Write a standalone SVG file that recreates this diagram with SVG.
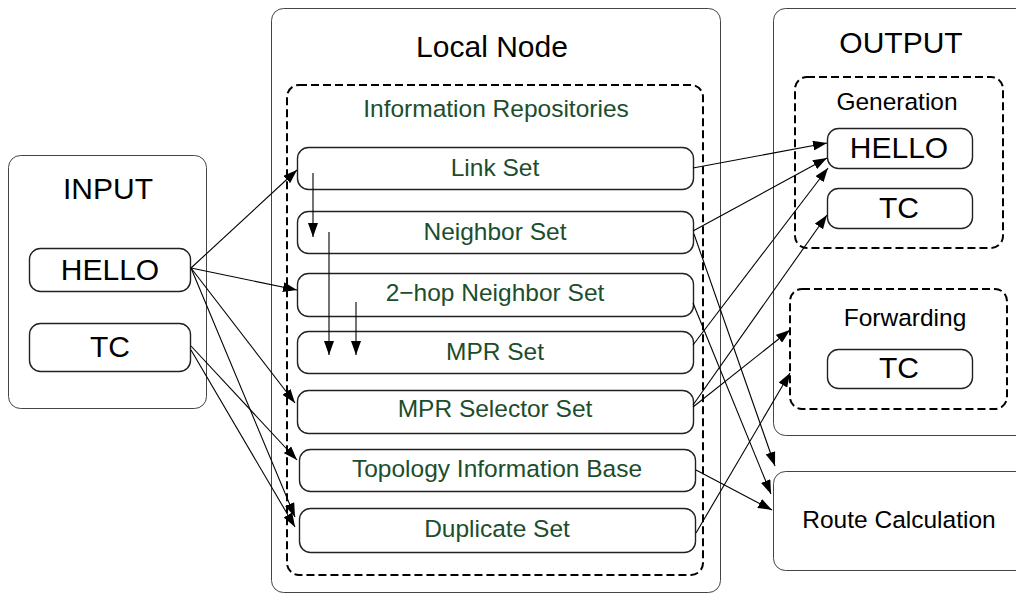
<svg xmlns="http://www.w3.org/2000/svg" width="1016" height="594" viewBox="0 0 1016 594">
<defs>
<style>
.outer{fill:#fff;stroke:#444;stroke-width:1}
.box{fill:#fff;stroke:#222;stroke-width:1.4}
.dash{fill:none;stroke:#000;stroke-width:2;stroke-dasharray:8,4}
.big{font-family:"Liberation Sans",Arial,sans-serif;font-size:30px;fill:#000;text-anchor:middle}
.mid{font-family:"Liberation Sans",Arial,sans-serif;font-size:24.5px;fill:#000;text-anchor:middle}
.grn{font-family:"Liberation Sans",Arial,sans-serif;font-size:24.5px;fill:#1c4d2c;text-anchor:middle}
.conn line{stroke:#000;stroke-width:1.1;marker-end:url(#ah)}
</style>
<marker id="ah" markerUnits="userSpaceOnUse" markerWidth="14" markerHeight="10" refX="14" refY="5" orient="auto">
<path d="M0,0 L14,5 L0,10 z" fill="#000"/>
</marker>
</defs>
<rect width="1016" height="594" fill="#fff"/>

<g id="input">
<rect class="outer" x="8.5" y="155.5" width="198" height="253" rx="12"/>
<text class="big" x="108" y="199">INPUT</text>
</g>
<g id="input-hello">
<rect class="box" x="29.5" y="248.5" width="161" height="43" rx="11"/>
<text class="big" x="110" y="280">HELLO</text>
</g>
<g id="input-tc">
<rect class="box" x="29.5" y="323.5" width="161" height="48" rx="11"/>
<text class="big" x="110" y="357">TC</text>
</g>

<g id="local-node">
<rect class="outer" x="271.5" y="8.5" width="449" height="584" rx="12"/>
<text class="big" x="492" y="57">Local Node</text>
</g>
<g id="info-repos">
<rect class="dash" x="287" y="85" width="416" height="490" rx="12"/>
<text class="grn" x="496" y="117">Information Repositories</text>
</g>
<g id="link-set">
<rect class="box" x="297.5" y="147.5" width="396" height="42" rx="11"/>
<text class="grn" x="495" y="176">Link Set</text>
</g>
<g id="neighbor-set">
<rect class="box" x="297.5" y="211.5" width="396" height="42" rx="11"/>
<text class="grn" x="495" y="240">Neighbor Set</text>
</g>
<g id="two-hop-set">
<rect class="box" x="297.5" y="273.5" width="396" height="43" rx="11"/>
<text class="grn" x="495" y="301">2−hop Neighbor Set</text>
</g>
<g id="mpr-set">
<rect class="box" x="297.5" y="331.5" width="396" height="42" rx="11"/>
<text class="grn" x="495" y="360">MPR Set</text>
</g>
<g id="mpr-selector-set">
<rect class="box" x="297.5" y="390.5" width="396" height="43" rx="11"/>
<text class="grn" x="495" y="417">MPR Selector Set</text>
</g>
<g id="topology-base">
<rect class="box" x="299.5" y="449.5" width="396" height="42" rx="11"/>
<text class="grn" x="497" y="477">Topology Information Base</text>
</g>
<g id="duplicate-set">
<rect class="box" x="299.5" y="508.5" width="396" height="44" rx="11"/>
<text class="grn" x="497" y="537">Duplicate Set</text>
</g>

<g id="output">
<rect class="outer" x="773.5" y="8.5" width="260" height="427" rx="12"/>
<text class="big" x="901" y="53">OUTPUT</text>
</g>
<g id="generation">
<rect class="dash" x="795" y="77" width="208" height="171" rx="12"/>
<text class="mid" x="897" y="110">Generation</text>
</g>
<g id="gen-hello">
<rect class="box" x="827.5" y="128.5" width="145" height="40" rx="11"/>
<text class="big" x="899" y="158">HELLO</text>
</g>
<g id="gen-tc">
<rect class="box" x="827.5" y="188.5" width="145" height="40" rx="11"/>
<text class="big" x="899" y="218">TC</text>
</g>
<g id="forwarding">
<rect class="dash" x="790" y="289" width="217" height="120" rx="12"/>
<text class="mid" x="905" y="326">Forwarding</text>
</g>
<g id="fwd-tc">
<rect class="box" x="827.5" y="349.5" width="145" height="39" rx="11"/>
<text class="big" x="899" y="378">TC</text>
</g>
<g id="route-calc">
<rect class="outer" x="773.5" y="471.5" width="260" height="99" rx="12"/>
<text class="mid" x="899" y="528">Route Calculation</text>
</g>

<g id="connectors" class="conn">
<line x1="191" y1="268" x2="297" y2="170"/>
<line x1="191" y1="268" x2="297" y2="290"/>
<line x1="191" y1="268" x2="295" y2="403"/>
<line x1="191" y1="268" x2="295" y2="517"/>
<line x1="191" y1="346" x2="297" y2="460"/>
<line x1="191" y1="350" x2="295" y2="527"/>
<line x1="313" y1="173" x2="313" y2="237"/>
<line x1="329" y1="232" x2="329" y2="355"/>
<line x1="356" y1="302" x2="356" y2="355"/>
<line x1="693" y1="168" x2="827" y2="143"/>
<line x1="693" y1="231" x2="827" y2="158"/>
<line x1="693" y1="345" x2="828" y2="168"/>
<line x1="693" y1="405" x2="827" y2="215"/>
<line x1="693" y1="407" x2="790" y2="330"/>
<line x1="696" y1="533" x2="790" y2="373"/>
<line x1="694" y1="234" x2="775" y2="466"/>
<line x1="693" y1="303" x2="771" y2="494"/>
<line x1="696" y1="470" x2="772" y2="510"/>
</g>
</svg>
